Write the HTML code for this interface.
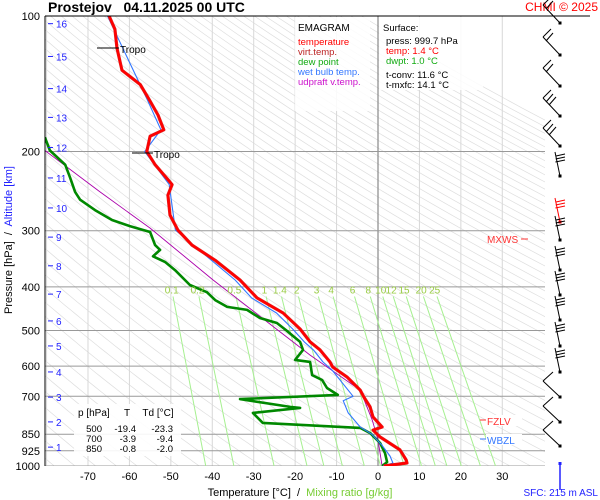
<!DOCTYPE html>
<html><head><meta charset="utf-8"><style>
html,body{margin:0;padding:0;background:#fff;}
svg{display:block;font-family:"Liberation Sans",sans-serif;}
</style></head><body>
<svg id="chart" width="600" height="500" viewBox="0 0 600 500" xmlns="http://www.w3.org/2000/svg">
<defs><clipPath id="plotclip"><rect x="45" y="16" width="500" height="450"/></clipPath></defs>
<rect x="0" y="0" width="600" height="500" fill="#fff"/>
<g id="grid" clip-path="url(#plotclip)"></g>
<g id="series" clip-path="url(#plotclip)"></g>
<g id="axes"></g>

<text x="48" y="12" font-size="14" font-weight="bold" fill="#000" xml:space="preserve">Prostejov   04.11.2025 00 UTC</text>
<text x="598" y="11" font-size="12" fill="#f00" text-anchor="end">CHMI © 2025</text>
<line x1="45" y1="16" x2="590" y2="16" stroke="#000" stroke-width="1"/>

<g>
<rect x="295" y="17" width="75" height="94" fill="#fff" opacity="0.85"/>
<text x="298" y="31" font-size="10" fill="#000">EMAGRAM</text>
<text x="298" y="45" font-size="9.5" fill="#f00">temperature</text>
<text x="298" y="55" font-size="9.5" fill="#b22">virt.temp.</text>
<text x="298" y="65" font-size="9.5" fill="#1a1">dew point</text>
<text x="298" y="75" font-size="9.5" fill="#37f">wet bulb temp.</text>
<text x="298" y="85" font-size="9.5" fill="#c1c">udpraft v.temp.</text>
</g>
<g>
<rect x="379" y="17" width="104" height="73" fill="#fff" opacity="0.85"/>
<text x="383" y="31" font-size="9.5" fill="#000">Surface:</text>
<text x="386" y="44" font-size="9.5" fill="#000">press: 999.7 hPa</text>
<text x="386" y="54" font-size="9.5" fill="#f00">temp: 1.4 °C</text>
<text x="386" y="64" font-size="9.5" fill="#1a1">dwpt: 1.0 °C</text>
<text x="386" y="78" font-size="9.5" fill="#000">t-conv: 11.6 °C</text>
<text x="386" y="88" font-size="9.5" fill="#000">t-mxfc: 14.1 °C</text>
</g>
<g>
<rect x="74" y="404" width="107" height="52" fill="#fff" opacity="0.9"/>
<text x="78" y="416" font-size="10" fill="#000">p [hPa]</text>
<text x="127" y="416" font-size="10" fill="#000" text-anchor="middle">T</text>
<text x="158" y="416" font-size="10" fill="#000" text-anchor="middle">Td [°C]</text>
<text x="102" y="432" font-size="9.5" fill="#000" text-anchor="end">500</text>
<text x="136" y="432" font-size="9.5" fill="#000" text-anchor="end">-19.4</text>
<text x="173" y="432" font-size="9.5" fill="#000" text-anchor="end">-23.3</text>
<text x="102" y="442" font-size="9.5" fill="#000" text-anchor="end">700</text>
<text x="136" y="442" font-size="9.5" fill="#000" text-anchor="end">-3.9</text>
<text x="173" y="442" font-size="9.5" fill="#000" text-anchor="end">-9.4</text>
<text x="102" y="452" font-size="9.5" fill="#000" text-anchor="end">850</text>
<text x="136" y="452" font-size="9.5" fill="#000" text-anchor="end">-0.8</text>
<text x="173" y="452" font-size="9.5" fill="#000" text-anchor="end">-2.0</text>
</g>
<g>
<text x="487" y="243" font-size="10" fill="#f33">MXWS</text>
<line x1="521" y1="239" x2="528" y2="239" stroke="#f33"/>
<line x1="480" y1="420" x2="486" y2="420" stroke="#f33"/>
<rect x="486" y="415" width="36" height="11" fill="#fff"/>
<text x="487" y="425" font-size="10" fill="#f33">FZLV</text>
<line x1="480" y1="439" x2="486" y2="439" stroke="#37f"/>
<rect x="486" y="434" width="36" height="11" fill="#fff"/>
<text x="487" y="444" font-size="10" fill="#37f">WBZL</text>
<line x1="97" y1="48" x2="119" y2="48" stroke="#000"/>
<text x="120" y="53" font-size="10" fill="#000">Tropo</text>
<line x1="132" y1="153" x2="153" y2="153" stroke="#000"/>
<text x="154" y="158" font-size="10" fill="#000">Tropo</text>
</g>
<g id="winds"></g>
<line x1="560" y1="463" x2="560" y2="490" stroke="#22f" stroke-width="1.5"/>
<rect x="558.5" y="462" width="3" height="3" fill="#22f"/>
<text x="598" y="496" font-size="10" fill="#22f" text-anchor="end">SFC: 215 m ASL</text>
<g transform="translate(12,240) rotate(-90)">
<text x="0" y="0" font-size="11" text-anchor="middle" xml:space="preserve"><tspan fill="#000">Pressure [hPa]  /  </tspan><tspan fill="#22f">Altitude [km]</tspan></text>
</g>
<text x="300" y="496" font-size="11" text-anchor="middle" xml:space="preserve"><tspan fill="#000">Temperature [°C]  /  </tspan><tspan fill="#7c3">Mixing ratio [g/kg]</tspan></text>
</svg>
<script>
const pressureLevels = [100,200,300,400,500,600,700,850,925,1000];
const tempTicks = [-70,-60,-50,-40,-30,-20,-10,0,10,20,30];
const altitudeKm = [16,15,14,13,12,11,10,9,8,7,6,5,4,3,2,1];
const altitudePress = [104,123,145,168,196,229,267,310,359,415,476,541,618,703,798,908];
const mixRatios = [0.1,0.2,0.5,1,1.4,2,3,4,6,8,10,12,15,20,25];
const tempP = [100,107,118,132,142,154,166,179,185,200,214,231,237,250,277,299,323,349,386,423,457,496,530,552,587,603,634,678,703,739,778,819,832,862,921,970,985,1000];
const tempT = [-64.9,-63.5,-63.0,-61.8,-57.4,-55.1,-53.1,-51.7,-55.0,-55.8,-53.8,-50.7,-49.7,-50.7,-50.2,-48.3,-44.9,-39.3,-33.3,-29.2,-22.9,-18.8,-16.4,-14.0,-11.6,-10.9,-7.5,-4.3,-3.4,-1.9,-1.2,1.0,-1.2,0.5,5.3,6.8,7.0,1.4];
const dewP = [186,199,214,229,246,256,270,284,293,302,323,331,342,352,367,396,411,428,443,450,469,481,499,530,552,581,587,628,644,671,695,710,739,743,762,802,823,845,889,936,980,1000];
const dewT = [-80.4,-79.2,-75.5,-74.3,-73.1,-71.9,-68.3,-64.2,-59.9,-55.0,-53.8,-52.6,-54.3,-51.4,-49.0,-45.4,-41.3,-39.3,-36.4,-31.6,-28.5,-24.4,-22.2,-18.8,-18.1,-20.0,-16.4,-15.9,-13.5,-12.3,-9.7,-33.3,-21.2,-18.8,-30.2,-27.8,-4.3,-1.9,0.5,1.7,2.2,1.0];
const wetP = [100,154,179,200,237,299,349,386,423,457,496,530,552,587,612,700,716,762,819,850,900,950,985,1000];
const wetT = [-65.3,-55.6,-52.4,-56.3,-50.4,-48.9,-40.2,-34.5,-30.5,-24.5,-20.6,-17.8,-15.6,-13.3,-11.1,-6.0,-8.4,-7.2,-4.3,-1.5,1.0,2.9,3.6,1.2];
const parcelP = [199,246,296,386,474,567,678,790,875,1000];
const parcelT = [-80.4,-67.1,-55.0,-39.8,-27.3,-16.4,-4.3,-1.4,0,1.0];

const NS='http://www.w3.org/2000/svg';
const X0=378, PXC=4.143, YT=16, YB=466;
function xT(t){return X0+t*PXC;}
function yP(p){return YT+(YB-YT)*Math.log(p/100)/Math.log(10);}
function mk(tag,attrs,parent){const e=document.createElementNS(NS,tag);for(const k in attrs)e.setAttribute(k,attrs[k]);parent.appendChild(e);return e;}
const grid=document.getElementById('grid'), series=document.getElementById('series'), axes=document.getElementById('axes');

for(let th=180;th<=520;th+=5){
  let d='';
  for(let p=100;p<=1000;p+=10){const t=th*Math.pow(p/1000,0.286)-273.15;d+=(p===100?'M':'L')+xT(t).toFixed(1)+','+yP(p).toFixed(1);}
  const e=mk('path',{d:d,fill:'none',stroke:'#dedede','stroke-width':'0.7'},grid);
  
  
}
for(let t=-80;t<=30;t+=10){
  const e=mk('line',{x1:xT(t),y1:YT,x2:xT(t),y2:YB,stroke:t===0?'#888':'#d8d8d8','stroke-width':t===0?1.2:1},grid);
  
  
}
pressureLevels.forEach(p=>{
  const e=mk('line',{x1:45,y1:yP(p),x2:545,y2:yP(p),stroke:'#999','stroke-width':1},grid);
  
  
});
function tdFromW(w,p){const e=w*p/(622+w);const l=Math.log(e/6.112);return 243.5*l/(17.67-l);}
mixRatios.forEach(w=>{
  const e=mk('line',{x1:xT(tdFromW(w,420)),y1:yP(420),x2:xT(tdFromW(w,1000)),y2:YB,stroke:'#a6f090','stroke-width':1},grid);
  
  
  const tx=mk('text',{x:xT(tdFromW(w,405)),y:yP(405)+4,'font-size':'10',fill:'#9c4','text-anchor':'middle'},axes);
  tx.textContent=String(w);
  
  
});
function line(P,T,color,w,name){
  let d='';P.forEach((p,i)=>{d+=(i?'L':'M')+xT(T[i]).toFixed(1)+','+yP(p).toFixed(1);});
  const e=mk('path',{d:d,fill:'none',stroke:color,'stroke-width':w,'stroke-linejoin':'round'},series);
  
  
}
line(parcelP,parcelT,'#a0a','0.9','parcel-line');
line(dewP,dewT,'#080','2.6','dewpoint-line');
line(wetP,wetT,'#37f','1.1','wetbulb-line');
line(tempP,tempT,'#d22','3.2','virt-temp-line');
line(tempP,tempT,'#f00','2.2','temperature-line');

mk('line',{x1:45,y1:YT,x2:45,y2:YB,stroke:'#000','stroke-width':1},axes);
pressureLevels.forEach(p=>{
  const t=mk('text',{x:40,y:yP(p)+4,'font-size':'11',fill:'#000','text-anchor':'end'},axes);
  t.textContent=String(p);
  
  
});
altitudeKm.forEach((k,i)=>{
  const y=yP(altitudePress[i]);
  mk('line',{x1:48,y1:y,x2:53,y2:y,stroke:'#22f','stroke-width':1},axes);
  const t=mk('text',{x:56,y:y+4,'font-size':'10',fill:'#22f'},axes);
  t.textContent=String(k);
  
  
});
tempTicks.forEach(v=>{
  const t=mk('text',{x:xT(v),y:480,'font-size':'11',fill:'#000','text-anchor':'middle'},axes);
  t.textContent=String(v);
  
  
});
const winds=document.getElementById('winds');
const barbDots=[23,55,86,116,146,176,222,240,270,295,320,346,372,397,422,446];
barbDots.forEach((y,i)=>{
  const g=mk('g',{},winds);
  
  
  const col=(i===6)?'#f00':'#000';
  mk('rect',{x:558.5,y:y-1.5,width:3,height:3,fill:col},g);
  if(i<5){
    mk('line',{x1:560,y1:y,x2:543,y2:y-18,stroke:'#000'},g);
    mk('line',{x1:543,y1:y-18,x2:551,y2:y-26,stroke:'#000'},g);
    mk('line',{x1:546,y1:y-14,x2:553,y2:y-22,stroke:'#000'},g);
    if(i>=3)mk('line',{x1:549,y1:y-11,x2:556,y2:y-19,stroke:'#000'},g);
  } else if(i>=13){
    mk('line',{x1:560,y1:y,x2:543,y2:y-16,stroke:'#000'},g);
    mk('line',{x1:543,y1:y-16,x2:553,y2:y-25,stroke:'#000'},g);
  } else {
    mk('line',{x1:560,y1:y,x2:555,y2:y-24,stroke:col},g);
    for(let k=0;k<3;k++)mk('line',{x1:556-k*0.3,y1:y-20+k*3,x2:565,y2:y-22+k*3,stroke:col},g);
  }
});
</script>
</body></html>
